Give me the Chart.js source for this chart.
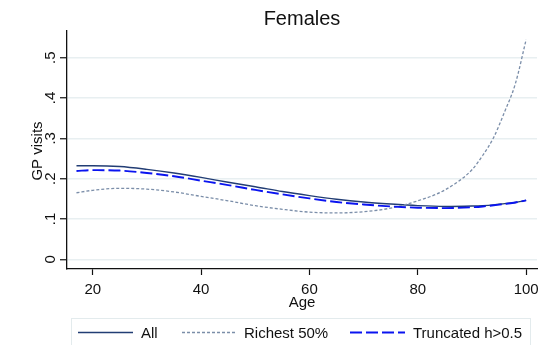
<!DOCTYPE html>
<html>
<head>
<meta charset="utf-8">
<script src="https://cdn.jsdelivr.net/npm/chart.js@4"></script>
<style>
  html, body { margin: 0; padding: 0; background: #fff; }
  #wrap { width: 560px; height: 345px; }
</style>
</head>
<body>
<div id="wrap"><canvas id="gpChart" width="560" height="345"></canvas></div>
<script>
// Fitted GP visits by age, females
const ages = [17, 20, 25, 30, 35, 40, 45, 50, 55, 60, 65, 70, 75, 80, 85, 90, 92, 94, 96, 98, 100];
const allVisits = [0.232, 0.232, 0.230, 0.223, 0.214, 0.203, 0.191, 0.180, 0.168, 0.158, 0.149, 0.142, 0.137, 0.133, 0.131, 0.132, 0.133, 0.135, 0.138, 0.141, 0.146];
const richestVisits = [0.165, 0.171, 0.176, 0.174, 0.167, 0.156, 0.145, 0.133, 0.124, 0.117, 0.115, 0.118, 0.127, 0.145, 0.172, 0.222, 0.258, 0.302, 0.365, 0.435, 0.545];
const truncVisits = [0.219, 0.221, 0.220, 0.214, 0.206, 0.195, 0.184, 0.172, 0.161, 0.151, 0.142, 0.136, 0.131, 0.128, 0.127, 0.129, 0.131, 0.134, 0.137, 0.141, 0.146];

const xTicks = [20, 40, 60, 80, 100];
const xTickLabels = ['20', '40', '60', '80', '100'];
const yTicks = [0, 0.1, 0.2, 0.3, 0.4, 0.5];
const yTickLabels = ['0', '.1', '.2', '.3', '.4', '.5'];
const seriesNames = ['All', 'Richest 50%', 'Truncated h>0.5'];

const FONT = "'Liberation Sans', Arial, Helvetica, sans-serif";

function toPoints(values) {
  return ages.map((a, i) => ({ x: a, y: values[i] }));
}

// Axis labels, title and the boxed legend underneath
const stataText = {
  id: 'stataText',
  afterDraw(chart) {
    const ctx = chart.ctx;
    const xs = chart.scales.x;
    const ys = chart.scales.y;
    const area = chart.chartArea;
    ctx.save();
    ctx.fillStyle = '#111';

    // title
    ctx.font = '20px ' + FONT;
    ctx.textAlign = 'center';
    ctx.textBaseline = 'alphabetic';
    ctx.fillText('Females', (area.left + area.right) / 2, 24.5);

    // x tick labels + title
    ctx.font = '15px ' + FONT;
    xTicks.forEach((v, i) => {
      ctx.fillText(xTickLabels[i], xs.getPixelForValue(v), 293.5);
    });
    ctx.fillText('Age', (area.left + area.right) / 2, 307);

    // y tick labels, rotated
    yTicks.forEach((v, i) => {
      ctx.save();
      ctx.translate(55, ys.getPixelForValue(v));
      ctx.rotate(-Math.PI / 2);
      ctx.fillText(yTickLabels[i], 0, 0);
      ctx.restore();
    });
    ctx.save();
    ctx.translate(41.5, 151);
    ctx.rotate(-Math.PI / 2);
    ctx.fillText('GP visits', 0, 0);
    ctx.restore();

    // legend box
    ctx.strokeStyle = '#e3ebed';
    ctx.lineWidth = 1;
    ctx.strokeRect(71.5, 318.5, 459, 40);

    const samples = [[78, 133, 141], [182, 236, 244], [350, 405, 413]];
    ctx.textAlign = 'left';
    chart.data.datasets.forEach((ds, i) => {
      const [x1, x2, tx] = samples[i];
      ctx.save();
      ctx.strokeStyle = ds.borderColor;
      ctx.lineWidth = ds.borderWidth;
      ctx.setLineDash(ds.borderDash || []);
      ctx.beginPath();
      ctx.moveTo(x1, 332.5);
      ctx.lineTo(x2, 332.5);
      ctx.stroke();
      ctx.restore();
      ctx.fillText(ds.label, tx, 338);
    });
    ctx.restore();
  }
};

new Chart(document.getElementById('gpChart'), {
  type: 'line',
  data: {
    datasets: [
      {
        label: seriesNames[0],
        data: toPoints(allVisits),
        borderColor: '#223d74',
        borderWidth: 1.4,
        order: 3
      },
      {
        label: seriesNames[1],
        data: toPoints(richestVisits),
        borderColor: '#7b8ea9',
        borderWidth: 1.3,
        borderDash: [3, 2],
        order: 2
      },
      {
        label: seriesNames[2],
        data: toPoints(truncVisits),
        borderColor: '#0a14f0',
        borderWidth: 1.9,
        borderDash: [12, 4],
        order: 1
      }
    ]
  },
  options: {
    responsive: false,
    animation: false,
    layout: { padding: { top: 31, right: 23, bottom: 76, left: 0 } },
    elements: {
      point: { radius: 0 },
      line: { cubicInterpolationMode: 'monotone', fill: false }
    },
    plugins: {
      legend: { display: false },
      title: { display: false },
      tooltip: { enabled: false }
    },
    scales: {
      x: {
        type: 'linear',
        min: 15.25,
        max: 102,
        afterBuildTicks: (scale) => { scale.ticks = xTicks.map(v => ({ value: v })); },
        afterFit: (scale) => { scale.height = 0; },
        ticks: { display: false },
        grid: {
          drawOnChartArea: false,
          drawTicks: true,
          tickLength: 6,
          tickColor: '#111',
          tickWidth: 1.2
        },
        border: { display: true, color: '#111', width: 1.3 }
      },
      y: {
        type: 'linear',
        min: -0.024,
        max: 0.566,
        afterBuildTicks: (scale) => { scale.ticks = yTicks.map(v => ({ value: v })); },
        afterFit: (scale) => { scale.width = 67; },
        ticks: { display: false },
        grid: {
          color: '#e8eff1',
          lineWidth: 1.5,
          drawTicks: true,
          tickLength: 7,
          tickColor: '#111',
          tickWidth: 1.2
        },
        border: { display: true, color: '#111', width: 1.3 }
      }
    }
  },
  plugins: [stataText]
});
</script>
</body>
</html>
